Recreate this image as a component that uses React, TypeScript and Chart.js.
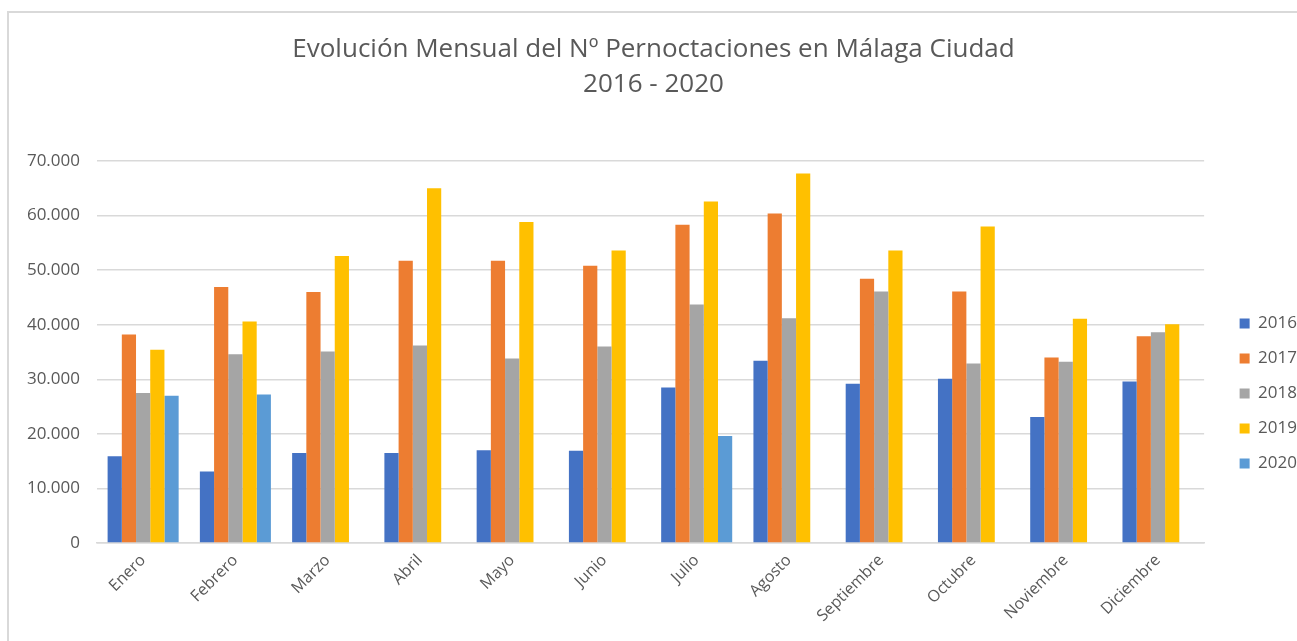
import React, { useEffect, useRef } from "react";
import { Chart, registerables } from "chart.js";

Chart.register(...registerables);

const months = ["Enero", "Febrero", "Marzo", "Abril", "Mayo", "Junio", "Julio", "Agosto", "Septiembre", "Octubre", "Noviembre", "Diciembre"];
const years = ["2016", "2017", "2018", "2019", "2020"];
const v2016 = [15900, 13100, 16500, 16500, 17000, 16900, 28500, 33400, 29200, 30100, 23100, 29600];
const v2017 = [38200, 46900, 46000, 51700, 51700, 50800, 58300, 60400, 48400, 46100, 34000, 37900];
const v2018 = [27500, 34600, 35100, 36200, 33800, 36000, 43700, 41200, 46100, 32900, 33200, 38600];
const v2019 = [35400, 40600, 52600, 65000, 58800, 53600, 62600, 67700, 53600, 58000, 41100, 40100];
const v2020 = [27000, 27200, null, null, null, null, 19600, null, null, null, null, null];
const colors = ["#4472C4", "#ED7D31", "#A5A5A5", "#FFC000", "#5B9BD5"];
const titleLines = ["Evolución Mensual del Nº Pernoctaciones en Málaga Ciudad", "2016 - 2020"];

const W = 1297;
const H = 641;
const TXT = "#595959";
const GRID = "#D9D9D9";
const FONT = "'Open Sans', 'Noto Sans', sans-serif";

function fmt(v: number) {
  return String(v).replace(/\B(?=(\d{3})+(?!\d))/g, ".");
}

export default function App() {
  const ref = useRef<HTMLCanvasElement | null>(null);
  useEffect(() => {
    document.body.style.margin = "0";
    const series = [v2016, v2017, v2018, v2019, v2020];
    const chart = new Chart(ref.current as HTMLCanvasElement, {
      type: "bar",
      data: {
        labels: months,
        datasets: series.map((d, i) => ({
          label: years[i],
          data: d,
          backgroundColor: colors[i],
          borderWidth: 0,
          categoryPercentage: 0.77,
          barPercentage: 1,
        })),
      },
      options: {
        animation: false,
        responsive: false,
        layout: { padding: { left: 0, right: -10, top: 0, bottom: 0 } },
        plugins: {
          title: {
            display: true,
            text: titleLines,
            color: TXT,
            font: { family: FONT, size: 26, weight: "normal", lineHeight: 35 / 26 },
            padding: { top: 32, bottom: 59 },
          },
          legend: {
            position: "right",
            title: { display: true, text: "", font: { size: 10, lineHeight: 1 }, padding: { top: 136, bottom: 0 } },
            labels: {
              color: TXT,
              font: { family: FONT, size: 17 },
              boxWidth: 10,
              boxHeight: 10,
              padding: 18,
            },
          },
          tooltip: { enabled: false },
        },
        scales: {
          x: {
            grid: { display: false, drawTicks: false },
            border: { display: true, color: GRID, width: 1.5 },
            ticks: {
              color: TXT,
              font: { family: FONT, size: 16 },
              maxRotation: 45,
              minRotation: 45,
              padding: 8,
              autoSkip: false,
            },
            afterFit: (s: any) => {
              s.height = 98;
            },
          },
          y: {
            min: 0,
            max: 70000,
            grid: { color: GRID, lineWidth: 1.5, drawTicks: false },
            border: { display: false },
            ticks: {
              stepSize: 10000,
              color: TXT,
              font: { family: FONT, size: 17 },
              padding: 17,
              callback: (v: any) => fmt(Number(v)),
            },
            afterFit: (s: any) => {
              s.width = 97;
            },
          },
          y2: {
            position: "right",
            display: true,
            grid: { display: false, drawTicks: false },
            border: { display: false },
            ticks: { display: false },
            afterFit: (s: any) => {
              s.width = 17.5;
            },
          },
        },
      },
    });
    return () => chart.destroy();
  }, []);
  return (
    <div style={{ position: "relative", width: W, height: H, overflow: "hidden", background: "#fff" }}>
      <canvas ref={ref} width={W} height={H} style={{ position: "absolute", left: 0, top: 0, width: W, height: H }} />
      <div
        style={{
          position: "absolute",
          left: 7,
          top: 11,
          right: 0,
          bottom: 0,
          borderLeft: "2px solid " + GRID,
          borderTop: "2px solid " + GRID,
          pointerEvents: "none",
        }}
      />
    </div>
  );
}
